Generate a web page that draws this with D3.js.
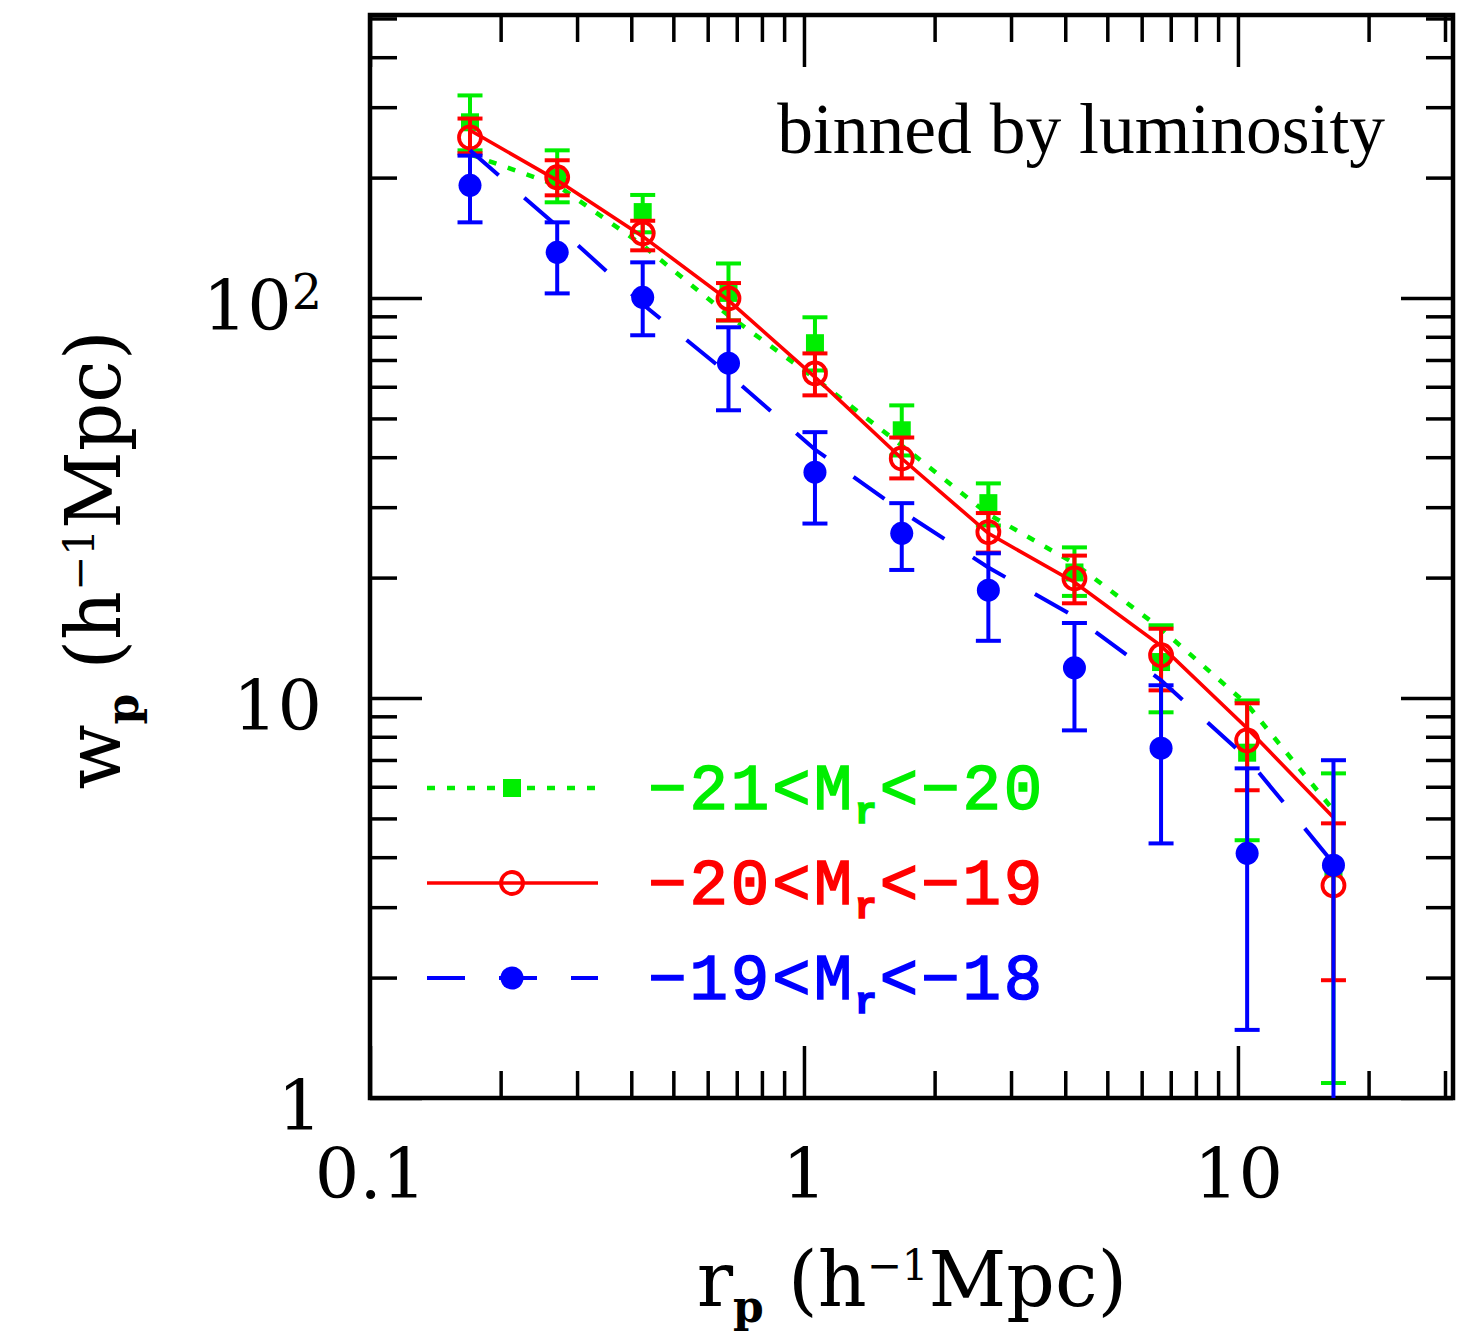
<!DOCTYPE html>
<html>
<head>
<meta charset="utf-8">
<script src="https://cdnjs.cloudflare.com/ajax/libs/d3/7.8.5/d3.min.js"></script>
<style>
  body { margin: 0; background: #fff; }
  .axis path.domain { display: none; }
  .axis line { stroke: #000; stroke-width: 3.5; }
  .axis text { font-family: "DejaVu Serif", serif; font-size: 70px; fill: #000; }
</style>
</head>
<body>
<div id="chart"></div>
<script>
// projected separation r_p (h^-1 Mpc)
const rp = [0.17, 0.27, 0.425, 0.67, 1.06, 1.68, 2.66, 4.2, 6.65, 10.5, 16.6];

// -21 < Mr < -20 (green, filled squares)
const wpBright   = [275, 200, 164, 103, 77.1, 46.7, 30.7, 20.6, 12.3, 7.3, 3.75];
const wpBrightHi = [321, 234, 181, 122, 89.5, 53.9, 34.4, 23.8, 15.2, 9.86, 6.48];
const wpBrightLo = [234, 173.5, 146, 87.9, 65.9, 40.4, 27.0, 18.0, 9.21, 4.41, 1.09];
const modelBright = [228.7, 191.3, 135.5, 90.5, 63.0, 42.8, 28.8, 21.7, 14.9, 9.64, 5.24];

// -20 < Mr < -19 (red, open circles)
const wpMid   = [252, 200.4, 145.1, 99.8, 64.8, 39.7, 26.0, 19.9, 12.8, 7.84, 3.40];
const wpMidHi = [281, 221, 156, 109, 72.7, 44.8, 29.0, 22.7, 14.9, 9.7, 4.86];
const wpMidLo = [230, 180.6, 131.6, 87.9, 57.1, 35.4, 23.1, 17.25, 10.45, 5.88, 1.97];
const modelMid = [262.6, 196.9, 142.6, 98.7, 63.4, 39.7, 25.8, 19.47, 13.5, 8.40, 5.03];

// -19 < Mr < -18 (blue, filled circles); null = error bar runs off the bottom
const wpFaint   = [191.3, 130.1, 100.4, 68.7, 36.7, 25.8, 18.6, 11.9, 7.49, 4.09, 3.82];
const wpFaintHi = [227, 154.6, 122.8, 84.5, 46.2, 30.7, 23.0, 15.4, 10.76, 6.67, 6.99];
const wpFaintLo = [154.6, 102.7, 80.7, 52.4, 27.3, 20.9, 13.9, 8.30, 4.33, 1.48, null];
const modelFaint = [234, 151.1, 96.5, 64.5, 41.8, 29.3, 21.2, 16.0, 11.07, 7.07, 3.86];

const xMajorTicks = [0.1, 1, 10];
const xMinorTicks = [0.2, 0.3, 0.4, 0.5, 0.6, 0.7, 0.8, 0.9, 2, 3, 4, 5, 6, 7, 8, 9, 20, 30];
const yMajorTicks = [1, 10, 100];
const yMinorTicks = [2, 3, 4, 5, 6, 7, 8, 9, 20, 30, 40, 50, 60, 70, 80, 90, 200, 300, 400, 500];

const W = 1481, H = 1340;
const plotL = 370, plotR = 1453, plotT = 15, plotB = 1098;

const svg = d3.select("#chart").append("svg")
  .attr("width", W)
  .attr("height", H);

svg.append("rect").attr("width", W).attr("height", H).attr("fill", "#fff");

const x = d3.scaleLog().domain([0.1, 31.3]).range([plotL, plotR]);
const y = d3.scaleLog().domain([1, 510]).range([plotB, plotT]);

// axes: ticks inward on all four sides
function addAxis(axisFn, pos, transform, values, size, labels) {
  const ax = axisFn(pos === "x" ? x : y)
    .tickValues(values)
    .tickSize(-size)
    .tickPadding(labels ? (pos === "x" ? 50 : 48) : 0)
    .tickFormat(labels ? d3.format("") : "");
  return svg.append("g").attr("class", "axis")
    .attr("transform", transform)
    .call(ax);
}

const gx = addAxis(d3.axisBottom, "x", `translate(0,${plotB})`, xMajorTicks, 52, true);
addAxis(d3.axisBottom, "x", `translate(0,${plotB})`, xMinorTicks, 27, false);
addAxis(d3.axisTop, "x", `translate(0,${plotT})`, xMajorTicks, 52, false);
addAxis(d3.axisTop, "x", `translate(0,${plotT})`, xMinorTicks, 27, false);
const gy = addAxis(d3.axisLeft, "y", `translate(${plotL},0)`, yMajorTicks, 52, true);
addAxis(d3.axisLeft, "y", `translate(${plotL},0)`, yMinorTicks, 27, false);
addAxis(d3.axisRight, "y", `translate(${plotR},0)`, yMajorTicks, 52, false);
addAxis(d3.axisRight, "y", `translate(${plotR},0)`, yMinorTicks, 27, false);

gy.selectAll("text").attr("dy", "0.45em");
gy.selectAll("text").filter(d => d === 100).each(function () {
  const t = d3.select(this).text("10");
  t.append("tspan").attr("dy", "-0.45em").attr("font-size", "68%").text("2");
});

// frame
svg.append("rect")
  .attr("x", plotL).attr("y", plotT)
  .attr("width", plotR - plotL).attr("height", plotB - plotT)
  .attr("fill", "none").attr("stroke", "#000").attr("stroke-width", 4.5);

svg.append("clipPath").attr("id", "plotClip")
  .append("rect").attr("x", plotL).attr("y", plotT)
  .attr("width", plotR - plotL).attr("height", plotB - plotT);

const plot = svg.append("g").attr("clip-path", "url(#plotClip)");

const series = [
  { color: "#00ee00", vals: wpBright, hi: wpBrightHi, lo: wpBrightLo, model: modelBright,
    dash: "8,12", lw: 4.5, marker: "square", label: ["\u221221<M", "<\u221220"] },
  { color: "#ff0000", vals: wpMid, hi: wpMidHi, lo: wpMidLo, model: modelMid,
    dash: null, lw: 3.6, marker: "open", label: ["\u221220<M", "<\u221219"] },
  { color: "#0000ff", vals: wpFaint, hi: wpFaintHi, lo: wpFaintLo, model: modelFaint,
    dash: "38,34", lw: 4, marker: "filled", label: ["\u221219<M", "<\u221218"] }
];

const line = d3.line().x(d => x(d[0])).y(d => y(d[1]));

function drawMarker(g, type, color, cx, cy) {
  if (type === "square") {
    g.append("rect").attr("x", cx - 9).attr("y", cy - 9)
      .attr("width", 18).attr("height", 18).attr("fill", color);
  } else if (type === "open") {
    g.append("circle").attr("cx", cx).attr("cy", cy).attr("r", 11)
      .attr("fill", "none").attr("stroke", color).attr("stroke-width", 3.8);
  } else {
    g.append("circle").attr("cx", cx).attr("cy", cy).attr("r", 11.5).attr("fill", color);
  }
}

series.forEach(s => {
  const g = plot.append("g");
  g.append("path")
    .datum(rp.map((r, i) => [r, s.model[i]]))
    .attr("d", line)
    .attr("fill", "none")
    .attr("stroke", s.color)
    .attr("stroke-width", s.lw)
    .attr("stroke-dasharray", s.dash);

  rp.forEach((r, i) => {
    const cx = x(r);
    const yHi = y(s.hi[i]);
    const yLo = s.lo[i] == null ? plotB + 5 : y(s.lo[i]);
    g.append("line").attr("x1", cx).attr("x2", cx).attr("y1", yHi).attr("y2", yLo)
      .attr("stroke", s.color).attr("stroke-width", 4);
    g.append("line").attr("x1", cx - 12.5).attr("x2", cx + 12.5).attr("y1", yHi).attr("y2", yHi)
      .attr("stroke", s.color).attr("stroke-width", 4);
    if (s.lo[i] != null) {
      g.append("line").attr("x1", cx - 12.5).attr("x2", cx + 12.5).attr("y1", yLo).attr("y2", yLo)
        .attr("stroke", s.color).attr("stroke-width", 4);
    }
    drawMarker(g, s.marker, s.color, cx, y(s.vals[i]));
  });
});

// legend
const legendY = [788, 883, 978];
series.forEach((s, i) => {
  const ly = legendY[i];
  svg.append("line")
    .attr("x1", 427).attr("x2", 598).attr("y1", ly).attr("y2", ly)
    .attr("stroke", s.color).attr("stroke-width", s.lw)
    .attr("stroke-dasharray", s.dash);
  drawMarker(svg, s.marker, s.color, 512, ly);
  const t = svg.append("text")
    .attr("x", 648).attr("y", ly + 21)
    .attr("font-family", "'Liberation Mono', monospace")
    .attr("font-size", 64)
    .attr("letter-spacing", 3)
    .attr("fill", s.color)
    .attr("stroke", s.color)
    .attr("stroke-width", 1.6);
  t.append("tspan").text(s.label[0]);
  t.append("tspan").attr("dy", 14).attr("font-size", 36).attr("font-weight", "bold").text("r");
  t.append("tspan").attr("dy", -14).text(s.label[1]);
});

// annotation
svg.append("text")
  .attr("x", 1385).attr("y", 153)
  .attr("text-anchor", "end")
  .attr("font-family", "'Liberation Serif', serif")
  .attr("font-size", 71.5)
  .text("binned by luminosity");

// axis titles
const xt = svg.append("text")
  .attr("x", 912).attr("y", 1306)
  .attr("text-anchor", "middle")
  .attr("font-family", "'DejaVu Serif', serif")
  .attr("font-size", 76);
xt.append("tspan").text("r");
xt.append("tspan").attr("dy", 16).attr("font-size", 44).attr("font-weight", "bold").text("p");
xt.append("tspan").attr("dy", -16).text(" (h");
xt.append("tspan").attr("dy", -26).attr("font-size", 42).text("\u22121");
xt.append("tspan").attr("dy", 26).text("Mpc)");

const yt = svg.append("text")
  .attr("transform", "translate(120,560) rotate(-90)")
  .attr("text-anchor", "middle")
  .attr("font-family", "'DejaVu Serif', serif")
  .attr("font-size", 76);
yt.append("tspan").text("w");
yt.append("tspan").attr("dy", 18).attr("font-size", 44).attr("font-weight", "bold").text("p");
yt.append("tspan").attr("dy", -18).text(" (h");
yt.append("tspan").attr("dy", -26).attr("font-size", 42).text("\u22121");
yt.append("tspan").attr("dy", 26).text("Mpc)");
</script>
</body>
</html>
